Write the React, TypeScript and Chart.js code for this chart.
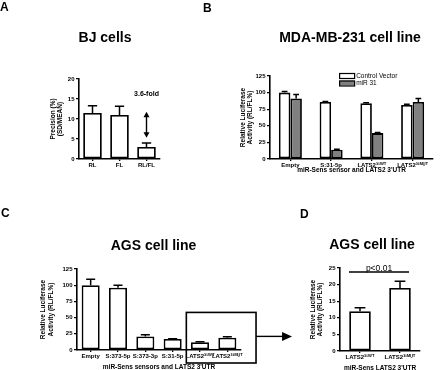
import React, { useEffect, useRef } from "react";
import { Chart, registerables } from "chart.js";

Chart.register(...registerables);

const FONT = "'Liberation Sans', Arial, Helvetica, sans-serif";

// ---------- Panel A ----------
const aTitle = "BJ cells";
const aLabels = ["RL", "FL", "RL/FL"];
const aValues = [11.5, 11, 3];
const aErrors = [1.8, 2.2, 1];
const aYTitle = ["Precision (%)", "(SD/MEAN)"];
const aFoldLabel = "3.6-fold";
const aArrowRange = [5.3, 11.8];
const aFoldLabelValue = 16.3;

// ---------- Panel B ----------
const bTitle = "MDA-MB-231 cell line";
const bLabels = ["Empty", "S:31-5p", "LATS2\u00B3\u00B9\u1D42\u1D40", "LATS2\u00B3\u00B9\u1D39\u1D41\u1D40"];
const bSeriesNames = ["Control Vector", "miR 31"];
const bControl = [100, 86, 84, 81.5];
const bControlErr = [1.5, 0.5, 0.6, 1];
const bMir = [91, 14, 39, 86];
const bMirErr = [6, 0.5, 1, 5];
const bYTitle = ["Relative Luciferase", "Activity (RL/FL%)"];
const bXTitle = "miR-Sens sensor and LATS2 3'UTR";

// ---------- Panel C ----------
const cTitle = "AGS cell line";
const cLabels = ["Empty", "S:373-5p", "S:373-3p", "S:31-5p", "LATS2\u00B3\u00B9\u1D42\u1D40", "LATS2\u00B3\u00B9\u1D39\u1D41\u1D40"];
const cValues = [100, 96, 21, 17, 12, 19];
const cErrors = [9, 4, 2.5, 0.5, 0.8, 1.5];
const cYTitle = ["Relative Luciferase", "Activity (RL/FL%)"];
const cXTitle = "miR-Sens sensors and LATS2 3'UTR";
const cBoxTopValue = 58;
const cArrowValue = 21;

// ---------- Panel D ----------
const dTitle = "AGS cell line";
const dLabels = ["LATS2\u00B3\u00B9\u1D42\u1D40", "LATS2\u00B3\u00B9\u1D39\u1D41\u1D40"];
const dValues = [12, 19];
const dErrors = [1, 2];
const dYTitle = ["Relative Luciferase", "Activity (RL/FL%)"];
const dXTitle = "miR-Sens LATS2 3'UTR";
const dPLabel = "p<0.01";
const dPLineValue = 23.8;

const panelLetters = ["A", "B", "C", "D"];

const errorBarPlugin = {
  id: "errorBars",
  afterDatasetsDraw(chart: any) {
    const ctx = chart.ctx;
    const yScale = chart.scales.y;
    chart.data.datasets.forEach((ds: any, di: number) => {
      if (!ds.errors) return;
      const meta = chart.getDatasetMeta(di);
      meta.data.forEach((bar: any, i: number) => {
        const v = ds.data[i];
        const e = ds.errors[i];
        const yTop = yScale.getPixelForValue(v + e);
        const half = bar.width * 0.25;
        ctx.save();
        ctx.strokeStyle = "#000";
        ctx.lineWidth = 1.5;
        ctx.beginPath();
        ctx.moveTo(bar.x, bar.y);
        ctx.lineTo(bar.x, yTop);
        ctx.moveTo(bar.x - half, yTop);
        ctx.lineTo(bar.x + half, yTop);
        ctx.stroke();
        ctx.restore();
      });
    });
  },
};

function opts(o: any) {
  const tickFont = { family: FONT, size: 6, weight: "bold" as const };
  const titleFont = { family: FONT, size: 6.5, weight: "bold" as const, lineHeight: 1.1 };
  const scales: any = {
    x: {
      offset: true,
      grid: { display: true, drawOnChartArea: false, offset: false, tickLength: 2, color: "#000", lineWidth: 1.3 },
      border: { color: "#000", width: 1.6 },
      ticks: { color: "#000", font: tickFont, padding: 1, maxRotation: 0, minRotation: 0, autoSkip: false },
      title: o.xTitle
        ? { display: true, text: o.xTitle, color: "#000", font: titleFont, padding: { top: 0, bottom: o.xTitlePad } }
        : { display: false },
      afterFit: (s: any) => {
        s.height = o.xHeight;
      },
    },
    y: {
      min: 0,
      max: o.yMax,
      grid: { display: true, drawOnChartArea: false, tickLength: 3, color: "#000", lineWidth: 1.3 },
      border: { color: "#000", width: 1.6 },
      ticks: { stepSize: o.yStep, color: "#000", font: tickFont, padding: 1.5 },
      title: { display: true, text: o.yTitle, color: "#000", font: titleFont, padding: { top: o.yTitlePad, bottom: 0 } },
      afterFit: (s: any) => {
        s.width = o.yWidth;
      },
    },
  };
  if (o.y2Width) {
    // invisible spacer on the right so the chart title centres over the plot
    scales.y2 = {
      position: "right",
      display: true,
      grid: { display: false, drawTicks: false },
      border: { display: false },
      ticks: { display: false },
      title: { display: false },
      afterFit: (s: any) => {
        s.width = o.y2Width;
      },
    };
  }
  return {
    responsive: false,
    animation: false,
    events: [],
    layout: { padding: { left: o.padL, right: o.padR, top: 0, bottom: 0 } },
    plugins: {
      legend: { display: false },
      tooltip: { enabled: false },
      title: {
        display: true,
        text: o.title,
        color: "#000",
        font: { family: FONT, size: 14, weight: "bold", lineHeight: 1.2 },
        padding: { top: o.titleTop, bottom: o.titleBottom },
      },
    },
    scales,
  };
}

const barStyle = (bg: string) => ({
  backgroundColor: bg,
  borderColor: "#000",
  borderWidth: 1.8,
  borderSkipped: false,
});

export default function App() {
  const refA = useRef<HTMLCanvasElement>(null);
  const refB = useRef<HTMLCanvasElement>(null);
  const refC = useRef<HTMLCanvasElement>(null);
  const refD = useRef<HTMLCanvasElement>(null);

  useEffect(() => {
    const charts: Chart[] = [];

    // Panel A
    const aPlugin = {
      id: "aFold",
      afterDraw(chart: any) {
        const ctx = chart.ctx;
        const x = chart.scales.x.getPixelForValue(2);
        const yLow = chart.scales.y.getPixelForValue(aArrowRange[0]);
        const yHigh = chart.scales.y.getPixelForValue(aArrowRange[1]);
        ctx.save();
        ctx.strokeStyle = "#000";
        ctx.fillStyle = "#000";
        ctx.lineWidth = 1.4;
        ctx.beginPath();
        ctx.moveTo(x, yHigh + 4);
        ctx.lineTo(x, yLow - 4);
        ctx.stroke();
        ctx.beginPath();
        ctx.moveTo(x, yHigh);
        ctx.lineTo(x - 3, yHigh + 5.5);
        ctx.lineTo(x + 3, yHigh + 5.5);
        ctx.closePath();
        ctx.fill();
        ctx.beginPath();
        ctx.moveTo(x, yLow);
        ctx.lineTo(x - 3, yLow - 5.5);
        ctx.lineTo(x + 3, yLow - 5.5);
        ctx.closePath();
        ctx.fill();
        ctx.font = `bold 7px ${FONT}`;
        ctx.textAlign = "center";
        ctx.textBaseline = "middle";
        ctx.fillText(aFoldLabel, x, chart.scales.y.getPixelForValue(aFoldLabelValue));
        ctx.restore();
      },
    };
    charts.push(
      new Chart(refA.current!, {
        type: "bar",
        data: {
          labels: aLabels,
          datasets: [{ data: aValues, errors: aErrors, ...barStyle("#fff"), barPercentage: 0.69, categoryPercentage: 1 } as any],
        },
        options: opts({
          title: aTitle, titleTop: 29.6, titleBottom: 32.6,
          padL: 50, padR: 40, yWidth: 29, xHeight: 26,
          yMax: 20, yStep: 5, yTitle: aYTitle, yTitlePad: -0.8,
        }) as any,
        plugins: [errorBarPlugin, aPlugin],
      })
    );

    // Panel B
    const bLegend = {
      id: "bLegend",
      afterDraw(chart: any) {
        const ctx = chart.ctx;
        const x0 = chart.scales.x.getPixelForValue(1) + 8;
        let y = chart.chartArea.top - 3;
        ctx.save();
        chart.data.datasets.forEach((ds: any) => {
          ctx.fillStyle = ds.backgroundColor;
          ctx.fillRect(x0, y, 15, 5);
          ctx.strokeStyle = "#000";
          ctx.lineWidth = 1.2;
          ctx.strokeRect(x0 + 0.5, y + 0.5, 15, 5);
          ctx.fillStyle = "#000";
          ctx.font = `6.5px ${FONT}`;
          ctx.textAlign = "left";
          ctx.textBaseline = "middle";
          ctx.fillText(ds.label, x0 + 17, y + 3);
          y += 7.5;
        });
        ctx.restore();
      },
    };
    charts.push(
      new Chart(refB.current!, {
        type: "bar",
        data: {
          labels: bLabels,
          datasets: [
            { label: bSeriesNames[0], data: bControl, errors: bControlErr, ...barStyle("#ffffff"), barPercentage: 1, categoryPercentage: 0.565 } as any,
            { label: bSeriesNames[1], data: bMir, errors: bMirErr, ...barStyle("#808080"), barPercentage: 1, categoryPercentage: 0.565 } as any,
          ],
        },
        options: opts({
          title: bTitle, titleTop: 29.6, titleBottom: 29.6,
          padL: 53, padR: 3, yWidth: 17, y2Width: 14, xHeight: 26,
          yMax: 125, yStep: 25, yTitle: bYTitle, yTitlePad: -13.8,
          xTitle: bXTitle, xTitlePad: 11.1,
        }) as any,
        plugins: [errorBarPlugin, bLegend],
      })
    );

    // Panel C
    const cPlugin = {
      id: "cBox",
      afterDraw(chart: any) {
        const ctx = chart.ctx;
        const xs = chart.scales.x;
        const ys = chart.scales.y;
        const left = xs.getPixelForValue(3.5);
        const right = xs.getPixelForValue(6.05);
        const top = ys.getPixelForValue(cBoxTopValue);
        const bottom = chart.chartArea.bottom + 13;
        ctx.save();
        ctx.strokeStyle = "#000";
        ctx.fillStyle = "#000";
        ctx.lineWidth = 1.6;
        ctx.strokeRect(left, top, right - left, bottom - top);
        const ay = ys.getPixelForValue(cArrowValue);
        const aEnd = right + 36;
        ctx.lineWidth = 1.4;
        ctx.beginPath();
        ctx.moveTo(right, ay);
        ctx.lineTo(aEnd - 8, ay);
        ctx.stroke();
        ctx.beginPath();
        ctx.moveTo(aEnd, ay);
        ctx.lineTo(aEnd - 10, ay - 4.5);
        ctx.lineTo(aEnd - 10, ay + 4.5);
        ctx.closePath();
        ctx.fill();
        ctx.restore();
      },
    };
    charts.push(
      new Chart(refC.current!, {
        type: "bar",
        data: {
          labels: cLabels,
          datasets: [{ data: cValues, errors: cErrors, ...barStyle("#fff"), barPercentage: 0.66, categoryPercentage: 1 } as any],
        },
        options: opts({
          title: cTitle, titleTop: 52.6, titleBottom: 14.6,
          padL: 60, padR: 53, yWidth: 17, y2Width: 6, xHeight: 20,
          yMax: 125, yStep: 25, yTitle: cYTitle, yTitlePad: -20,
          xTitle: cXTitle, xTitlePad: -0.6,
        }) as any,
        plugins: [errorBarPlugin, cPlugin],
      })
    );

    // Panel D
    const dPlugin = {
      id: "dP",
      afterDraw(chart: any) {
        const ctx = chart.ctx;
        const xs = chart.scales.x;
        const y = chart.scales.y.getPixelForValue(dPLineValue);
        const x1 = xs.getPixelForValue(-0.275);
        const x2 = xs.getPixelForValue(1.225);
        ctx.save();
        ctx.strokeStyle = "#000";
        ctx.fillStyle = "#000";
        ctx.lineWidth = 1.4;
        ctx.beginPath();
        ctx.moveTo(x1, y);
        ctx.lineTo(x2, y);
        ctx.stroke();
        ctx.font = `8.5px ${FONT}`;
        ctx.textAlign = "center";
        ctx.textBaseline = "bottom";
        ctx.fillText(dPLabel, (x1 + x2) / 2, y + 1);
        ctx.restore();
      },
    };
    charts.push(
      new Chart(refD.current!, {
        type: "bar",
        data: {
          labels: dLabels,
          datasets: [{ data: dValues, errors: dErrors, ...barStyle("#fff"), barPercentage: 0.54, categoryPercentage: 1 } as any],
        },
        options: opts({
          title: dTitle, titleTop: 52.1, titleBottom: 14.1,
          padL: 24, padR: 20, yWidth: 16, xHeight: 19,
          yMax: 25, yStep: 5, yTitle: dYTitle, yTitlePad: -14.6,
          xTitle: dXTitle, xTitlePad: -1.6,
        }) as any,
        plugins: [errorBarPlugin, dPlugin],
      })
    );

    return () => charts.forEach((c) => c.destroy());
  }, []);

  const letterStyle = (left: number, top: number): React.CSSProperties => ({
    position: "absolute",
    left,
    top,
    font: `bold 12px ${FONT}`,
    lineHeight: "12px",
    color: "#000",
  });
  const canvasStyle = (left: number, top: number): React.CSSProperties => ({
    position: "absolute",
    left,
    top,
    display: "block",
  });

  return (
    <div style={{ position: "fixed", left: 0, top: 0, width: 440, height: 370, background: "#fff", overflow: "hidden" }}>
      <canvas ref={refA} width={200} height={185} style={{ ...canvasStyle(0, 0), width: 200, height: 185 }} />
      <canvas ref={refB} width={250} height={185} style={{ ...canvasStyle(200, 0), width: 250, height: 185 }} />
      <canvas ref={refC} width={300} height={185} style={{ ...canvasStyle(0, 185), width: 300, height: 185 }} />
      <canvas ref={refD} width={140} height={185} style={{ ...canvasStyle(300, 185), width: 140, height: 185 }} />
      <div style={letterStyle(0, 0.5)}>{panelLetters[0]}</div>
      <div style={letterStyle(203, 1.5)}>{panelLetters[1]}</div>
      <div style={letterStyle(1, 206.5)}>{panelLetters[2]}</div>
      <div style={letterStyle(300, 207.5)}>{panelLetters[3]}</div>
    </div>
  );
}
